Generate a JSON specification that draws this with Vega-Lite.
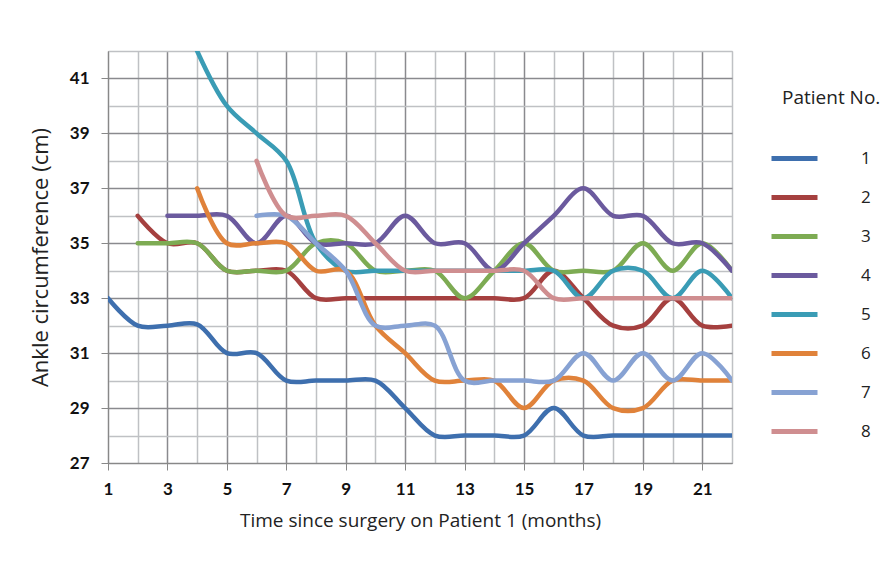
{
  "$schema": "https://vega.github.io/schema/vega-lite/v6.json",
  "autosize": "none",
  "width": 624,
  "height": 412,
  "padding": {"left": 108, "top": 51, "right": 157, "bottom": 100},
  "background": "white",
  "config": {
    "view": {"stroke": "#bbbbbb", "strokeWidth": 1},
    "font": "Lato"
  },
  "data": {
    "values": [
      {"month": 1, "value": 33, "patient": "1"},
      {"month": 2, "value": 32, "patient": "1"},
      {"month": 3, "value": 32, "patient": "1"},
      {"month": 4, "value": 32.05, "patient": "1"},
      {"month": 5, "value": 31, "patient": "1"},
      {"month": 6, "value": 31, "patient": "1"},
      {"month": 7, "value": 30, "patient": "1"},
      {"month": 8, "value": 30, "patient": "1"},
      {"month": 9, "value": 30, "patient": "1"},
      {"month": 10, "value": 30, "patient": "1"},
      {"month": 11, "value": 29, "patient": "1"},
      {"month": 12, "value": 28, "patient": "1"},
      {"month": 13, "value": 28, "patient": "1"},
      {"month": 14, "value": 28, "patient": "1"},
      {"month": 15, "value": 28, "patient": "1"},
      {"month": 16, "value": 29, "patient": "1"},
      {"month": 17, "value": 28, "patient": "1"},
      {"month": 18, "value": 28, "patient": "1"},
      {"month": 19, "value": 28, "patient": "1"},
      {"month": 20, "value": 28, "patient": "1"},
      {"month": 21, "value": 28, "patient": "1"},
      {"month": 22, "value": 28, "patient": "1"},

      {"month": 2, "value": 36, "patient": "2"},
      {"month": 3, "value": 35, "patient": "2"},
      {"month": 4, "value": 35, "patient": "2"},
      {"month": 5, "value": 34, "patient": "2"},
      {"month": 6, "value": 34, "patient": "2"},
      {"month": 7, "value": 34, "patient": "2"},
      {"month": 8, "value": 33, "patient": "2"},
      {"month": 9, "value": 33, "patient": "2"},
      {"month": 10, "value": 33, "patient": "2"},
      {"month": 11, "value": 33, "patient": "2"},
      {"month": 12, "value": 33, "patient": "2"},
      {"month": 13, "value": 33, "patient": "2"},
      {"month": 14, "value": 33, "patient": "2"},
      {"month": 15, "value": 33, "patient": "2"},
      {"month": 16, "value": 34, "patient": "2"},
      {"month": 17, "value": 33, "patient": "2"},
      {"month": 18, "value": 32, "patient": "2"},
      {"month": 19, "value": 32, "patient": "2"},
      {"month": 20, "value": 33, "patient": "2"},
      {"month": 21, "value": 32, "patient": "2"},
      {"month": 22, "value": 32, "patient": "2"},

      {"month": 2, "value": 35, "patient": "3"},
      {"month": 3, "value": 35, "patient": "3"},
      {"month": 4, "value": 35, "patient": "3"},
      {"month": 5, "value": 34, "patient": "3"},
      {"month": 6, "value": 34, "patient": "3"},
      {"month": 7, "value": 34, "patient": "3"},
      {"month": 8, "value": 35, "patient": "3"},
      {"month": 9, "value": 35, "patient": "3"},
      {"month": 10, "value": 34, "patient": "3"},
      {"month": 11, "value": 34, "patient": "3"},
      {"month": 12, "value": 34, "patient": "3"},
      {"month": 13, "value": 33, "patient": "3"},
      {"month": 14, "value": 34, "patient": "3"},
      {"month": 15, "value": 35, "patient": "3"},
      {"month": 16, "value": 34, "patient": "3"},
      {"month": 17, "value": 34, "patient": "3"},
      {"month": 18, "value": 34, "patient": "3"},
      {"month": 19, "value": 35, "patient": "3"},
      {"month": 20, "value": 34, "patient": "3"},
      {"month": 21, "value": 35, "patient": "3"},
      {"month": 22, "value": 34, "patient": "3"},

      {"month": 3, "value": 36, "patient": "4"},
      {"month": 4, "value": 36, "patient": "4"},
      {"month": 5, "value": 36, "patient": "4"},
      {"month": 6, "value": 35, "patient": "4"},
      {"month": 7, "value": 36, "patient": "4"},
      {"month": 8, "value": 35, "patient": "4"},
      {"month": 9, "value": 35, "patient": "4"},
      {"month": 10, "value": 35, "patient": "4"},
      {"month": 11, "value": 36, "patient": "4"},
      {"month": 12, "value": 35, "patient": "4"},
      {"month": 13, "value": 35, "patient": "4"},
      {"month": 14, "value": 34, "patient": "4"},
      {"month": 15, "value": 35, "patient": "4"},
      {"month": 16, "value": 36, "patient": "4"},
      {"month": 17, "value": 37, "patient": "4"},
      {"month": 18, "value": 36, "patient": "4"},
      {"month": 19, "value": 36, "patient": "4"},
      {"month": 20, "value": 35, "patient": "4"},
      {"month": 21, "value": 35, "patient": "4"},
      {"month": 22, "value": 34, "patient": "4"},

      {"month": 4, "value": 42, "patient": "5"},
      {"month": 5, "value": 40, "patient": "5"},
      {"month": 6, "value": 39, "patient": "5"},
      {"month": 7, "value": 38, "patient": "5"},
      {"month": 8, "value": 35, "patient": "5"},
      {"month": 9, "value": 34, "patient": "5"},
      {"month": 10, "value": 34, "patient": "5"},
      {"month": 11, "value": 34, "patient": "5"},
      {"month": 12, "value": 34, "patient": "5"},
      {"month": 13, "value": 34, "patient": "5"},
      {"month": 14, "value": 34, "patient": "5"},
      {"month": 15, "value": 34, "patient": "5"},
      {"month": 16, "value": 34, "patient": "5"},
      {"month": 17, "value": 33, "patient": "5"},
      {"month": 18, "value": 34, "patient": "5"},
      {"month": 19, "value": 34, "patient": "5"},
      {"month": 20, "value": 33, "patient": "5"},
      {"month": 21, "value": 34, "patient": "5"},
      {"month": 22, "value": 33, "patient": "5"},

      {"month": 4, "value": 37, "patient": "6"},
      {"month": 5, "value": 35, "patient": "6"},
      {"month": 6, "value": 35, "patient": "6"},
      {"month": 7, "value": 35, "patient": "6"},
      {"month": 8, "value": 34, "patient": "6"},
      {"month": 9, "value": 34, "patient": "6"},
      {"month": 10, "value": 32, "patient": "6"},
      {"month": 11, "value": 31, "patient": "6"},
      {"month": 12, "value": 30, "patient": "6"},
      {"month": 13, "value": 30, "patient": "6"},
      {"month": 14, "value": 30, "patient": "6"},
      {"month": 15, "value": 29, "patient": "6"},
      {"month": 16, "value": 30, "patient": "6"},
      {"month": 17, "value": 30, "patient": "6"},
      {"month": 18, "value": 29, "patient": "6"},
      {"month": 19, "value": 29, "patient": "6"},
      {"month": 20, "value": 30, "patient": "6"},
      {"month": 21, "value": 30, "patient": "6"},
      {"month": 22, "value": 30, "patient": "6"},

      {"month": 6, "value": 36, "patient": "7"},
      {"month": 7, "value": 36, "patient": "7"},
      {"month": 8, "value": 35, "patient": "7"},
      {"month": 9, "value": 34, "patient": "7"},
      {"month": 10, "value": 32, "patient": "7"},
      {"month": 11, "value": 32, "patient": "7"},
      {"month": 12, "value": 32, "patient": "7"},
      {"month": 13, "value": 30, "patient": "7"},
      {"month": 14, "value": 30, "patient": "7"},
      {"month": 15, "value": 30, "patient": "7"},
      {"month": 16, "value": 30, "patient": "7"},
      {"month": 17, "value": 31, "patient": "7"},
      {"month": 18, "value": 30, "patient": "7"},
      {"month": 19, "value": 31, "patient": "7"},
      {"month": 20, "value": 30, "patient": "7"},
      {"month": 21, "value": 31, "patient": "7"},
      {"month": 22, "value": 30, "patient": "7"},

      {"month": 6, "value": 38, "patient": "8"},
      {"month": 7, "value": 36, "patient": "8"},
      {"month": 8, "value": 36, "patient": "8"},
      {"month": 9, "value": 36, "patient": "8"},
      {"month": 10, "value": 35, "patient": "8"},
      {"month": 11, "value": 34, "patient": "8"},
      {"month": 12, "value": 34, "patient": "8"},
      {"month": 13, "value": 34, "patient": "8"},
      {"month": 14, "value": 34, "patient": "8"},
      {"month": 15, "value": 34, "patient": "8"},
      {"month": 16, "value": 33, "patient": "8"},
      {"month": 17, "value": 33, "patient": "8"},
      {"month": 18, "value": 33, "patient": "8"},
      {"month": 19, "value": 33, "patient": "8"},
      {"month": 20, "value": 33, "patient": "8"},
      {"month": 21, "value": 33, "patient": "8"},
      {"month": 22, "value": 33, "patient": "8"}
    ]
  },
  "mark": {"type": "line", "interpolate": "catmull-rom", "strokeWidth": 4.5, "strokeCap": "round", "strokeJoin": "round", "clip": true},
  "encoding": {
    "x": {
      "field": "month", "type": "quantitative",
      "scale": {"domain": [1, 22], "nice": false, "zero": false},
      "axis": {
        "values": [1,2,3,4,5,6,7,8,9,10,11,12,13,14,15,16,17,18,19,20,21,22],
        "labelExpr": "datum.value % 2 == 1 ? datum.label : ''",
        "title": "Time since surgery on Patient 1 (months)",
        "titleFont": "Open Sans", "titleFontSize": 19, "titleFontWeight": "normal", "titleColor": "#222222",
        "titlePadding": 14,
        "labelFont": "Lato", "labelFontSize": 17, "labelFontWeight": "bold", "labelColor": "#111111",
        "labelPadding": 11, "labelFlush": false,
        "domain": true, "domainColor": "#888888",
        "tickSize": 7, "tickColor": "#888888",
        "tickOpacity": {"condition": {"test": "datum.value % 2 == 1", "value": 1}, "value": 0},
        "grid": true,
        "gridColor": {"condition": {"test": "datum.value % 2 == 1", "value": "#8a8a8e"}, "value": "#bfc1c4"},
        "gridWidth": 1.5, "gridOpacity": 1
      }
    },
    "y": {
      "field": "value", "type": "quantitative",
      "scale": {"domain": [27, 42], "nice": false, "zero": false},
      "axis": {
        "values": [27,28,29,30,31,32,33,34,35,36,37,38,39,40,41,42],
        "labelExpr": "datum.value % 2 == 1 ? datum.label : ''",
        "title": "Ankle circumference (cm)",
        "titleFont": "Open Sans", "titleFontSize": 22, "titleFontWeight": "normal", "titleColor": "#222222",
        "titlePadding": 17,
        "labelFont": "Lato", "labelFontSize": 17, "labelFontWeight": "bold", "labelColor": "#111111",
        "labelPadding": 12, "labelFlush": false,
        "domain": true, "domainColor": "#888888",
        "tickSize": 7, "tickColor": "#888888",
        "tickOpacity": {"condition": {"test": "datum.value % 2 == 1", "value": 1}, "value": 0},
        "grid": true,
        "gridColor": {"condition": {"test": "datum.value % 2 == 1", "value": "#8a8a8e"}, "value": "#bfc1c4"},
        "gridWidth": 1.5, "gridOpacity": 1
      }
    },
    "color": {
      "field": "patient", "type": "nominal",
      "scale": {
        "domain": ["1","2","3","4","5","6","7","8"],
        "range": ["#3e6fae", "#a5403f", "#7dab53", "#6b5a9e", "#3a9cb5", "#e0823a", "#87a2d3", "#cf8e90"]
      },
      "legend": {
        "orient": "none",
        "legendX": 674,
        "legendY": 38,
        "title": "Patient No.",
        "titleFont": "Open Sans", "titleFontSize": 19, "titleFontWeight": "normal", "titleColor": "#222222",
        "titlePadding": 38,
        "symbolType": "M-2.3,0H2.3",
        "symbolSize": 400,
        "symbolStrokeWidth": 5,
        "symbolFillColor": "transparent",
        "labelFont": "Open Sans", "labelFontSize": 17, "labelColor": "#222222",
        "labelOffset": 54,
        "rowPadding": 16
      }
    }
  }
}
